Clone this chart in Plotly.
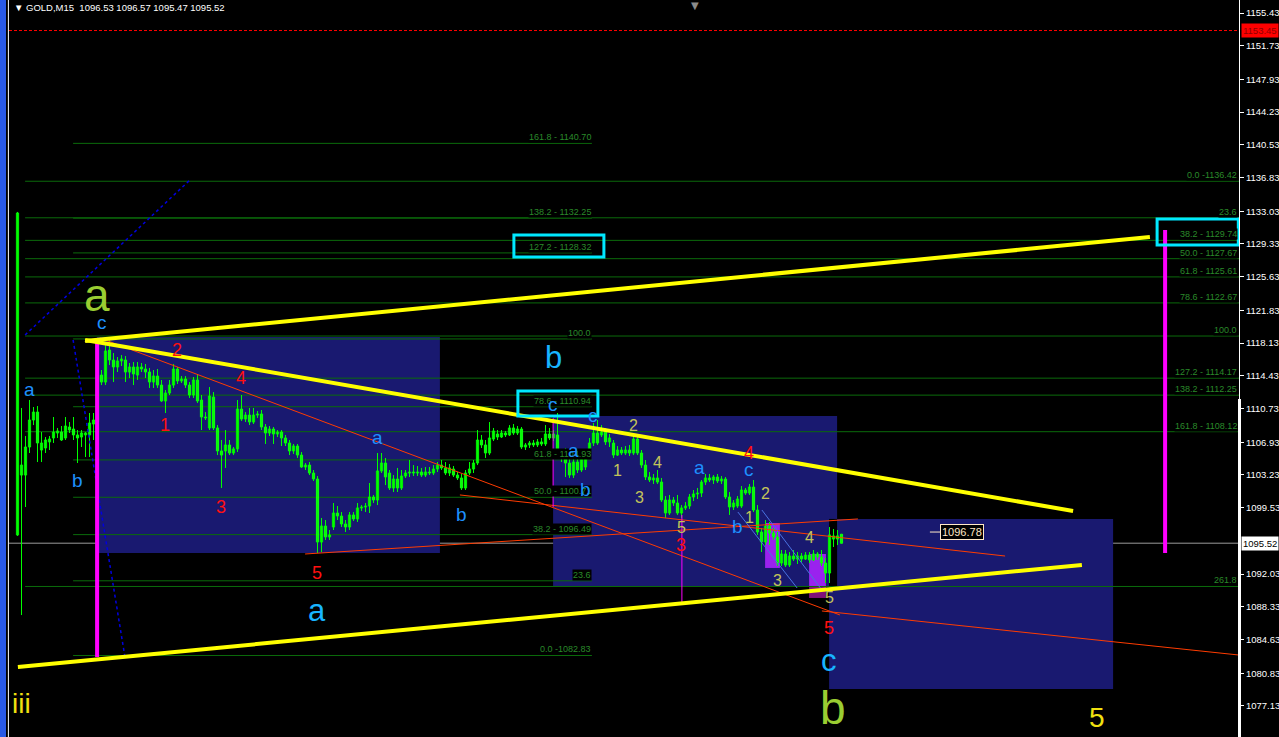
import plotly.graph_objects as go

# ---------------- DATA ----------------
open_ = [1096.45,1103.22,1103.22,1106.39,1109.44,1110.34,1106.05,1106.28,1106.96,1107.41,
1107.97,1108.08,1107.41,1108.65,1108.42,1107.75,1107.52,1107.75,1107.75,1108.99,
1109.21,1114.52,1113.73,1117.35,1116.22,1115.43,1116.11,1116.22,1114.86,1115.43,
1114.52,1115.43,1115.20,1114.86,1113.73,1114.41,1113.39,1111.59,1112.49,1113.39,
1115.20,1113.85,1114.07,1113.39,1112.26,1113.96,1111.70,1109.78,1108.54,1112.04,
1108.54,1105.94,1105.94,1106.62,1105.71,1106.17,1110.68,1109.55,1110.00,1109.21,
1110.00,1110.12,1108.65,1107.97,1108.42,1107.86,1108.08,1107.41,1106.84,1105.94,
1106.50,1105.48,1104.13,1104.35,1103.45,1102.77,1095.65,1097.46,1096.22,1097.35,
1098.93,1098.59,1097.69,1097.35,1098.71,1098.26,1099.50,1099.61,1099.72,1100.74,
1100.40,1103.68,1104.58,1103.45,1101.76,1102.77,1101.76,1103.11,1103.45,1103.56,
1103.45,1103.56,1103.22,1103.56,1103.45,1103.90,1104.35,1104.02,1103.45,1103.90,
1103.22,1102.89,1101.76,1103.45,1103.90,1104.58,1107.18,1106.62,1105.71,1107.29,
1107.86,1107.52,1107.97,1107.75,1108.54,1107.97,1108.42,1106.39,1106.62,1106.84,
1106.62,1106.96,1106.73,1107.86,1107.41,1107.75,1105.71,1105.26,1104.58,1103.22,
1104.69,1103.79,1104.13,1105.60,1106.84,1107.97,1107.75,1108.08,1106.96,1106.84,
1105.48,1106.05,1105.71,1106.05,1105.71,1107.29,1105.71,1104.35,1103.00,1102.66,
1102.89,1102.43,1100.40,1098.93,1100.40,1100.06,1098.93,1099.50,1099.72,1100.74,
1101.08,1101.19,1102.43,1102.89,1102.66,1103.00,1102.55,1102.77,1100.74,1099.61,
1099.72,1099.72,1101.53,1101.19,1101.87,1099.27,1096.78,1095.65,1097.46,1096.67,
1096.22,1093.28,1094.30,1093.05,1094.07,1093.73,1094.07,1093.73,1094.18,1093.62,
1094.30,1093.96,1093.28,1092.15,1095.99,1096.34,1096.53]
high_ = [1132.95,1110.80,1107.63,1111.70,1110.91,1111.02,1108.08,1107.52,1107.63,1109.78,
1108.54,1108.76,1109.78,1109.21,1109.78,1108.31,1108.31,1108.08,1110.23,1110.23,
1115.88,1115.09,1118.14,1118.71,1117.01,1116.56,1116.78,1116.67,1115.88,1115.99,
1115.99,1115.88,1115.77,1115.32,1115.09,1115.20,1113.96,1112.83,1113.96,1115.77,
1115.43,1114.41,1114.41,1113.73,1114.30,1114.52,1112.26,1110.34,1113.17,1112.60,
1108.87,1107.18,1108.31,1107.18,1106.39,1111.70,1112.26,1110.34,1110.80,1110.80,
1110.46,1110.57,1108.99,1108.76,1108.65,1108.31,1108.31,1107.75,1107.18,1106.73,
1106.73,1105.82,1104.58,1104.69,1103.79,1103.11,1098.37,1098.14,1097.01,1100.06,
1099.72,1099.04,1098.14,1099.04,1099.04,1100.06,1099.83,1100.06,1102.32,1100.97,
1105.71,1105.71,1105.15,1103.79,1103.22,1104.02,1103.79,1103.79,1104.92,1104.35,
1104.24,1104.02,1104.13,1104.13,1104.35,1104.69,1104.92,1104.69,1104.47,1104.24,
1103.56,1103.34,1103.79,1104.69,1104.92,1108.31,1107.75,1107.18,1109.21,1108.54,
1108.31,1108.31,1108.20,1108.87,1108.99,1108.76,1108.65,1106.84,1107.07,1107.18,
1107.29,1107.41,1108.87,1108.54,1108.31,1110.23,1106.05,1106.28,1105.15,1105.48,
1105.48,1106.05,1105.82,1107.41,1109.10,1109.44,1108.87,1108.54,1107.86,1107.18,
1106.50,1106.39,1106.50,1106.62,1107.97,1107.63,1106.05,1104.92,1103.56,1103.34,
1103.79,1102.89,1100.85,1100.97,1100.74,1100.97,1099.83,1100.17,1101.08,1101.53,
1101.76,1102.66,1103.34,1103.34,1103.22,1103.34,1103.11,1103.00,1101.30,1100.40,
1100.85,1101.98,1101.76,1102.21,1102.66,1099.83,1097.24,1098.14,1097.92,1097.24,
1096.78,1094.75,1094.75,1094.52,1094.75,1094.52,1094.41,1094.52,1094.52,1094.75,
1094.52,1094.75,1093.85,1097.35,1097.12,1097.01,1096.57]
low_ = [1096.34,1087.40,1099.61,1105.71,1108.87,1104.69,1104.69,1105.71,1106.05,1106.84,
1107.41,1107.07,1107.18,1107.97,1107.18,1104.58,1106.39,1105.26,1105.26,1107.18,
1108.87,1113.39,1113.39,1115.65,1113.73,1114.86,1115.54,1113.73,1114.19,1113.39,
1113.96,1114.86,1114.19,1113.06,1113.06,1113.06,1111.47,1110.23,1112.26,1113.06,
1113.51,1113.62,1113.06,1111.93,1111.93,1111.36,1108.31,1109.44,1108.31,1108.31,
1105.48,1101.76,1104.02,1105.48,1105.48,1105.82,1109.33,1109.21,1108.87,1108.99,
1109.67,1108.31,1106.73,1107.63,1106.73,1107.52,1106.50,1106.50,1105.48,1105.60,
1105.15,1104.02,1103.79,1103.22,1102.55,1094.41,1094.52,1095.88,1095.88,1097.01,
1098.14,1097.35,1096.78,1097.01,1098.03,1097.92,1099.16,1099.04,1098.93,1100.06,
1099.83,1103.45,1102.09,1101.53,1101.30,1101.30,1101.53,1102.89,1103.00,1103.11,
1103.11,1103.00,1103.00,1103.22,1103.22,1103.56,1103.79,1103.22,1103.11,1103.00,
1102.66,1101.53,1101.53,1103.22,1103.45,1104.35,1106.28,1105.15,1105.48,1107.07,
1107.18,1107.41,1107.52,1107.63,1107.75,1107.75,1106.17,1106.05,1106.28,1106.39,
1106.39,1106.50,1106.50,1107.18,1107.07,1105.48,1104.69,1103.00,1102.89,1102.89,
1103.45,1103.56,1103.79,1105.15,1106.50,1106.62,1107.52,1106.62,1106.39,1105.15,
1105.37,1105.48,1105.48,1105.37,1105.48,1105.48,1104.02,1102.66,1102.43,1102.21,
1102.21,1100.17,1098.37,1098.71,1099.72,1098.71,1098.37,1099.27,1099.38,1100.29,
1100.51,1100.74,1102.09,1102.43,1102.21,1102.32,1102.21,1100.51,1098.71,1099.27,
1099.50,1099.50,1100.97,1100.97,1099.04,1096.45,1094.52,1095.31,1095.31,1095.88,
1092.94,1092.94,1092.83,1092.83,1093.51,1093.17,1093.39,1093.62,1093.28,1093.51,
1093.62,1092.94,1091.02,1091.02,1095.09,1095.31,1095.47]
close_ = [1132.83,1104.35,1106.39,1109.44,1110.34,1106.84,1106.84,1107.18,1107.29,1108.08,
1108.20,1107.18,1108.76,1108.31,1107.75,1107.41,1107.97,1107.97,1109.10,1109.44,
1114.52,1113.73,1117.24,1116.22,1115.43,1116.11,1116.33,1114.86,1115.43,1114.64,
1115.43,1115.20,1114.86,1113.73,1114.41,1113.39,1111.59,1112.49,1113.39,1115.20,
1113.85,1114.07,1113.39,1112.26,1113.96,1111.59,1109.78,1109.67,1112.15,1108.54,
1105.94,1105.48,1106.62,1105.71,1106.17,1110.68,1109.55,1110.00,1109.21,1110.00,
1110.12,1108.65,1107.97,1108.42,1107.86,1108.08,1107.41,1106.84,1105.94,1106.50,
1105.48,1104.13,1104.35,1103.45,1102.77,1095.65,1097.46,1096.22,1096.45,1098.93,
1098.59,1097.69,1097.35,1098.71,1098.26,1099.50,1099.61,1099.72,1100.74,1100.40,
1103.68,1104.58,1103.00,1101.76,1102.77,1101.76,1103.11,1103.45,1103.56,1103.45,
1103.56,1103.22,1103.56,1103.45,1103.90,1104.35,1104.02,1103.45,1104.02,1103.22,
1102.89,1101.76,1103.45,1103.90,1104.58,1107.18,1106.62,1105.71,1107.41,1108.20,
1107.52,1107.97,1107.75,1108.54,1107.97,1108.42,1106.39,1106.62,1106.84,1106.62,
1106.96,1106.73,1107.86,1107.41,1107.86,1105.71,1105.26,1104.58,1103.22,1104.69,
1103.79,1105.26,1105.60,1106.84,1107.97,1106.84,1108.08,1106.96,1107.41,1105.48,
1106.05,1105.71,1106.05,1105.71,1107.29,1105.71,1104.35,1103.00,1102.66,1102.89,
1102.43,1100.40,1098.93,1100.40,1100.06,1098.93,1099.50,1099.72,1100.74,1101.08,
1101.19,1102.43,1102.89,1102.66,1103.00,1102.55,1102.77,1100.74,1099.61,1100.06,
1100.51,1101.53,1101.19,1101.87,1099.27,1096.78,1095.65,1097.46,1096.67,1096.22,
1093.28,1094.30,1093.05,1094.07,1093.73,1094.07,1093.73,1094.18,1093.62,1094.30,
1093.96,1093.28,1092.15,1096.45,1096.34,1095.99,1095.52]

bid_price = 1095.52
ask_price = 1153.45
header_text = "GOLD,M15\u00a0\u00a01096.53 1096.57 1095.47 1095.52"
axis_ticks = [1155.43,1151.73,1147.93,1144.23,1140.53,1136.83,1133.03,1129.33,1125.63,1121.83,
              1118.13,1114.43,1110.73,1106.93,1103.23,1099.53,1092.03,1088.33,1084.63,1080.83,1077.13]

# Fibonacci object A (centre) and B (right)
fibA_start, fibA_end = 14.9, 144.6
fibA_prices = [1082.83,1091.27,1096.49,1100.71,1104.93,1110.94,1118.60,1128.32,1132.25,1140.70]
fibA_labels = ["0.0 -1082.83","23.6","38.2 - 1096.49","50.0 - 1100.71","61.8 - 1104.93",
               "78.6 - 1110.94","100.0","127.2 - 1128.32","138.2 - 1132.25","161.8 - 1140.70"]
fibB_start, fibB_end = 2.9, 306.4
fibB_prices = [1136.42,1132.29,1129.74,1127.67,1125.61,1122.67,1118.93,1114.17,1112.25,1108.12,1090.63]
fibB_labels = ["0.0 -1136.42","23.6","38.2 - 1129.74","50.0 - 1127.67","61.8 - 1125.61",
               "78.6 - 1122.67","100.0","127.2 - 1114.17","138.2 - 1112.25","161.8 - 1108.12","261.8"]

# rectangles (bar from, bar to, price low, price high)
blue_rect_x0 = [20.9, 134.9, 203.9]
blue_rect_x1 = [106.6, 205.9, 274.9]
blue_rect_y0 = [1094.41, 1090.68, 1079.05]
blue_rect_y1 = [1118.82, 1109.89, 1098.26]
purple_rect_x0 = [187.9, 198.9]
purple_rect_x1 = [191.6, 203.1]
purple_rect_y0 = [1092.72, 1090.68]
purple_rect_y1 = [1097.80, 1094.30]
purple_dark_y0, purple_dark_y1 = 1089.33, 1090.68
cyan_box_x0 = [125.1, 126.1, 285.9]
cyan_box_x1 = [147.6, 146.1, 306.2]
cyan_box_y0 = [1127.86, 1109.89, 1129.22]
cyan_box_y1 = [1130.34, 1112.72, 1132.15]

# trend lines (bar0, price0, bar1, price1)
yellow_lines = [(17.9, 1118.37, 284.1, 1130.12),
                (17.9, 1118.48, 264.9, 1099.16),
                (1.1, 1081.53, 267.1, 1093.06)]
red_lines = [(21.6, 1118.71, 206.6, 1087.41),
             (111.6, 1100.97, 247.9, 1094.07),
             (72.9, 1094.30, 211.1, 1098.26),
             (202.1, 1087.86, 306.4, 1082.88)]
magenta_thick = [(20.9, 1118.48, 1082.66), (287.9, 1130.91, 1094.41)]
magenta_thin = [(134.9, 1109.67, 1099.61), (167.1, 1098.71, 1088.87)]
blue_dotted = [(2.9, 1119.05, 44.1, 1136.56), (14.9, 1118.48, 27.9, 1082.55)]
steel_lines = [(181.1, 1099.04, 195.9, 1090.46), (187.1, 1099.27, 202.1, 1090.23)]
price_label_bar, price_label_value = 237.1, 1096.78

# wave labels
olive_big_text = ["a", "b"]
olive_big_bar = [20.9, 204.9]
olive_big_price = [1123.6, 1076.9]
blue_big_text = ["b", "a", "c"]
blue_big_bar = [134.9, 75.9, 203.9]
blue_big_price = [1116.45, 1087.86, 1082.32]
blue_small_text = ["c","a","b","a","b","c","a","b","c","a","c","b"]
blue_small_bar = [22.1, 3.9, 15.9, 90.9, 111.9, 134.9, 139.9, 142.9, 144.9, 171.6, 183.9, 180.9]
blue_small_price = [1120.51,1112.94,1102.55,1107.41,1098.71,1111.14,1106.05,1101.64,1110.00,1104.02,1103.90,1097.46]
red_text = ["2","4","1","3","5","4","3","5"]
red_bar = [40.9, 56.9, 37.9, 51.9, 75.9, 183.9, 166.9, 203.9]
red_price = [1117.35,1114.19,1108.87,1099.61,1092.15,1105.71,1095.31,1085.94]
olive_small_text = ["2","1","4","3","5","2","1","3","4","5"]
olive_small_bar = [154.9,150.9,160.9,156.6,166.9,187.9,184.1,190.9,198.9,203.9]
olive_small_price = [1108.87,1103.79,1104.69,1100.74,1097.24,1101.08,1098.37,1091.25,1096.22,1089.44]
yellow_text = ["iii", "5"]
yellow_bar = [1.9, 270.9]
yellow_price = [1077.46, 1075.88]

# ---------------- FIGURE ----------------
FONT = "Liberation Sans, Arial, sans-serif"
bars = list(range(1, len(close_) + 1))
fig = go.Figure()

def seg_trace(segs, color, width, dash="solid"):
    xs, ys = [], []
    for s in segs:
        xs += [s[0], s[2], None]
        ys += [s[1], s[3], None]
    fig.add_trace(go.Scatter(x=xs, y=ys, mode="lines", hoverinfo="skip",
                             line=dict(color=color, width=width, dash=dash)))

# background rectangles
shapes = []
for x0, x1, y0, y1 in zip(blue_rect_x0, blue_rect_x1, blue_rect_y0, blue_rect_y1):
    shapes.append(dict(type="rect", xref="x", yref="y", x0=x0, x1=x1, y0=y0, y1=y1,
                       fillcolor="#191970", line=dict(width=0), layer="below"))
# overlap of rectangles 2 and 3 (XOR blending -> black)
shapes.append(dict(type="rect", xref="x", yref="y", x0=blue_rect_x0[2], x1=blue_rect_x1[1],
                   y0=blue_rect_y0[1], y1=blue_rect_y1[2], fillcolor="#000000",
                   line=dict(width=0), layer="below"))
for x0, x1, y0, y1 in zip(purple_rect_x0, purple_rect_x1, purple_rect_y0, purple_rect_y1):
    shapes.append(dict(type="rect", xref="x", yref="y", x0=x0, x1=x1, y0=y0, y1=y1,
                       fillcolor="#9a22ee", line=dict(width=0), layer="below"))
shapes.append(dict(type="rect", xref="x", yref="y", x0=purple_rect_x0[1], x1=purple_rect_x1[1],
                   y0=purple_dark_y0, y1=purple_dark_y1, fillcolor="#80107a",
                   line=dict(width=0), layer="below"))
# fib lines
for p in fibA_prices:
    shapes.append(dict(type="line", xref="x", yref="y", x0=fibA_start, x1=fibA_end, y0=p, y1=p,
                       line=dict(color="#0b6b0b", width=1), layer="below"))
for p in fibB_prices:
    shapes.append(dict(type="line", xref="x", yref="y", x0=fibB_start, x1=fibB_end, y0=p, y1=p,
                       line=dict(color="#0b6b0b", width=1), layer="below"))
# bid / ask lines
shapes.append(dict(type="line", xref="paper", yref="y", x0=0, x1=1, y0=bid_price, y1=bid_price,
                   line=dict(color="#9a9a9a", width=1), layer="below"))
shapes.append(dict(type="line", xref="paper", yref="y", x0=0, x1=1, y0=ask_price, y1=ask_price,
                   line=dict(color="#ff0000", width=1, dash="3px,2px"), layer="below"))
# cyan boxes
for x0, x1, y0, y1 in zip(cyan_box_x0, cyan_box_x1, cyan_box_y0, cyan_box_y1):
    shapes.append(dict(type="rect", xref="x", yref="y", x0=x0, x1=x1, y0=y0, y1=y1,
                       line=dict(color="#00e8ff", width=3), fillcolor="rgba(0,0,0,0)", layer="above"))
# window frame on the left
shapes.append(dict(type="rect", xref="paper", yref="paper", x0=-9/1230, x1=-3/1230, y0=0, y1=1,
                   fillcolor="#2a5ae6", line=dict(width=0)))
shapes.append(dict(type="line", xref="paper", yref="paper", x0=-0.6/1230, x1=-0.6/1230, y0=0, y1=1,
                   line=dict(color="#ffffff", width=1)))
shapes.append(dict(type="line", xref="paper", yref="y", x0=1 + 0.5/1230, x1=1 + 0.5/1230,
                   y0=1073.0, y1=1111.81, line=dict(color="#ffffff", width=3)))

# candles: wicks then bodies
wx, wy = [], []
for b, h, l in zip(bars, high_, low_):
    wx += [b, b, None]
    wy += [l, h, None]
fig.add_trace(go.Scatter(x=wx, y=wy, mode="lines", hoverinfo="skip",
                         line=dict(color="#00ff00", width=1)))
body_base = [min(o, c) for o, c in zip(open_, close_)]
body_len = [max(abs(c - o), 0.05) for o, c in zip(open_, close_)]
body_fill = ["#000000" if c >= o else "#ffffff" for o, c in zip(open_, close_)]
fig.add_trace(go.Bar(x=bars, y=body_len, base=body_base, width=0.55, hoverinfo="skip",
                     marker=dict(color=body_fill, line=dict(color="#00ff00", width=1))))

# objects over candles
seg_trace(red_lines, "#ff3c00", 1)
seg_trace(steel_lines, "#4a72e0", 1)
seg_trace(blue_dotted, "#0000e0", 1.5, "dot")
seg_trace([(b, y0, b, y1) for b, y0, y1 in magenta_thin], "#ff00ff", 1)
seg_trace([(b, y0, b, y1) for b, y0, y1 in magenta_thick], "#ff00ff", 4)
seg_trace(yellow_lines, "#ffff00", 4)
seg_trace([(price_label_bar - 8.0, price_label_value, price_label_bar - 5.4, price_label_value)], "#ffe8c8", 1)

ann = []
for lab, p in zip(fibA_labels, fibA_prices):
    ann.append(dict(x=fibA_end, y=p, xref="x", yref="y", text=lab, showarrow=False,
                    xanchor="right", yanchor="bottom", bgcolor="#000000", borderpad=0,
                    font=dict(family=FONT, size=9, color="#2a8a2a")))
for lab, p in zip(fibB_labels, fibB_prices):
    ann.append(dict(x=fibB_end - 0.4, y=p, xref="x", yref="y", text=lab, showarrow=False,
                    xanchor="right", yanchor="bottom", bgcolor="#000000", borderpad=0,
                    font=dict(family=FONT, size=9, color="#2a8a2a")))

def add_labels(texts, bx, py, color, size):
    for t, x, y in zip(texts, bx, py):
        ann.append(dict(x=x, y=y, xref="x", yref="y", text=t, showarrow=False,
                        xanchor="center", yanchor="middle",
                        font=dict(family=FONT, size=size, color=color)))

add_labels(olive_small_text, olive_small_bar, olive_small_price, "#c4c45a", 16)
add_labels(red_text, red_bar, red_price, "#ff1010", 18)
add_labels(blue_small_text, blue_small_bar, blue_small_price, "#1e90ff", 19)
add_labels(blue_big_text, blue_big_bar, blue_big_price, "#18b4ff", 31)
add_labels(olive_big_text, olive_big_bar, olive_big_price, "#9acd32", 46)
add_labels(yellow_text, yellow_bar, yellow_price, "#f0e010", 28)

# price label object
ann.append(dict(x=price_label_bar, y=price_label_value, xref="x", yref="y",
                text="%.2f" % price_label_value, showarrow=False, xanchor="center", yanchor="middle",
                bgcolor="#000000", bordercolor="#ffe8c8", borderwidth=1, borderpad=1,
                font=dict(family=FONT, size=11, color="#ffe8c8")))
# header
ann.append(dict(x=3/1230, y=1, xref="paper", yref="paper", text="\u25bc " + header_text,
                showarrow=False, xanchor="left", yanchor="top", yshift=0,
                font=dict(family="Liberation Sans, DejaVu Sans", size=9.5, color="#ffffff")))
ann.append(dict(x=686/1230, y=1, xref="paper", yref="paper", text="\u25bc", showarrow=False,
                xanchor="center", yanchor="top", yshift=2,
                font=dict(family="DejaVu Sans", size=10, color="#8a8a8a")))
# axis price boxes
ann.append(dict(x=1, y=ask_price, xref="paper", yref="y", text="%.2f" % ask_price, showarrow=False,
                xanchor="left", yanchor="middle", xshift=2, bgcolor="#ff0000", borderpad=1,
                font=dict(family=FONT, size=9.5, color="#900000")))
ann.append(dict(x=1, y=bid_price, xref="paper", yref="y", text="%.2f" % bid_price, showarrow=False,
                xanchor="left", yanchor="middle", xshift=2, bgcolor="#ffffff", borderpad=1,
                font=dict(family=FONT, size=9.5, color="#000000")))

fig.update_layout(
    width=1279, height=737,
    margin=dict(l=9, r=40, t=0, b=0),
    paper_bgcolor="#000000", plot_bgcolor="#000000",
    showlegend=False, barmode="overlay",
    shapes=shapes, annotations=ann,
    xaxis=dict(range=[-1.125, 306.375], showgrid=False, zeroline=False,
               showticklabels=False, ticks="", showline=False),
    yaxis=dict(range=[1073.62, 1156.90], side="right", showgrid=False, zeroline=False,
               tickvals=axis_ticks, ticktext=["%.2f" % v for v in axis_ticks],
               ticks="outside", ticklen=4, tickcolor="#ffffff",
               showline=True, linecolor="#ffffff", linewidth=1,
               tickfont=dict(family=FONT, size=9.5, color="#ffffff")),
)

fig.write_html("out.html", config={"displayModeBar": False},
               post_script="document.body.style.margin='0';document.body.style.padding='0';"
                           "document.body.style.background='#000';document.body.style.overflow='hidden';")
